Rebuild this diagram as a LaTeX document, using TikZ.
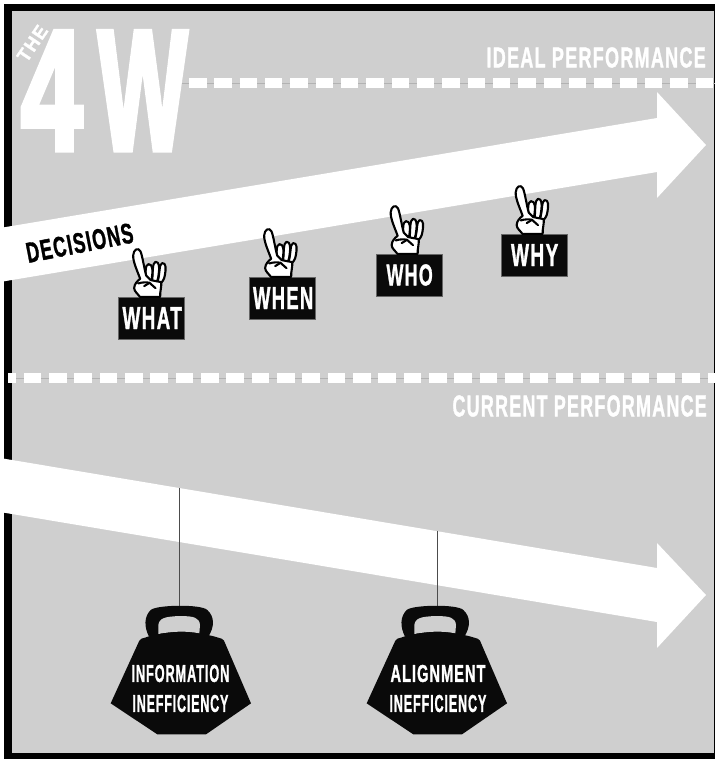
\documentclass[tikz,border=0pt]{standalone}
\usepackage{fontspec}
\setmainfont{Liberation Sans}
\newfontfamily\heavyfont[FakeBold=1.5,LetterSpace=7]{Liberation Sans Bold}
\newfontfamily\hugefont[FakeBold=4]{Liberation Sans Bold}
\definecolor{panel}{HTML}{CFCFCF}
\definecolor{ink}{HTML}{0A0A0A}
\newcommand{\capt}[3]{\resizebox{#1bp}{#2bp}{\heavyfont #3\kern-.07em}}
\newcommand{\hcapt}[3]{\resizebox{#1bp}{#2bp}{\hugefont #3}}
\tikzset{
  bigarrow/.style={fill=white,draw=none},
  dashline/.style={white,line width=10.5bp,dash pattern=on 17.5bp off 7.83bp},
  guide/.style={draw=black!30,line width=.7bp},
  tag/.style={fill=ink,draw=black!60,line width=.4bp,minimum width=66bp,minimum height=42bp,inner sep=0pt,text=white},
  whitetext/.style={text=white,inner sep=0pt},
  weighttext/.style={text=white,inner sep=0pt,align=center,font=\fontsize{10bp}{30bp}\selectfont},
  tether/.style={draw=black!70,line width=.9bp},
  fingerline/.style={fill=white,draw=black,line width=2.1bp,line join=round},
  hand/.pic={
    \begin{scope}[scale=1/3,shift={(-80,-156)}]
      \path[fingerline] (98,112) .. controls (106,85) and (102,58) .. (112,55) .. controls (124,53) and (124,72) .. (120,92) .. controls (118,104) and (112,112) .. (106,118) -- cycle;
      \path[fingerline] (82,112) .. controls (84,85) and (82,54) .. (92,51) .. controls (104,50) and (104,70) .. (102,84) .. controls (100,98) and (100,104) .. (96,112) -- cycle;
      \path[fingerline] (64,112) .. controls (62,85) and (60,60) .. (71,58) .. controls (84,58) and (84,78) .. (82,92) .. controls (81,102) and (80,106) .. (78,112) -- cycle;
      \path[fingerline] (45,156) .. controls (40,148) and (28,140) .. (28,130) .. controls (28,118) and (38,108) .. (46,102) .. controls (38,80) and (24,50) .. (25,32) .. controls (26,14) and (40,6) .. (47,20) .. controls (52,30) and (58,70) .. (64,92) -- (78,106) -- (109,112) .. controls (111,125) and (105,140) .. (106,156) -- cycle;
      \draw[line width=2.1bp,line join=round,line cap=round] (40,116) .. controls (52,112) and (64,112) .. (74,114) -- (92,130);
      \draw[line width=2.1bp,line cap=round] (58,124) -- (74,114);
    \end{scope}
  },
  weight/.pic={
    \begin{scope}[scale=1/3]
      \fill[ink] (147,140) .. controls (132,110) and (132,80) .. (152,60) .. controls (170,44) and (305,42) .. (322,60) .. controls (344,80) and (344,110) .. (325,140) -- cycle;
      \fill[panel] (175,132) -- (175,105) .. controls (178,84) and (195,80) .. (238,78) .. controls (285,78) and (298,84) .. (300,105) -- (298,130) .. controls (260,122) and (215,124) .. (175,132) -- cycle;
      \fill[ink] (118,152) .. controls (122,146) and (125,145) .. (135,143) .. controls (190,122) and (290,122) .. (355,143) .. controls (365,146) and (368,146) .. (372,152) -- (453,340) -- (318,433) -- (172,433) -- (32,340) -- cycle;
    \end{scope}
  }
}
\begin{document}
\begin{tikzpicture}[x=1bp,y=-1bp]
\useasboundingbox (0,0) rectangle (715,759);
\fill[white] (0,0) rectangle (715,759);
\fill[black] (4,4) rectangle (715,759);
\fill[panel] (12,11) rectangle (714,753);
% guides and dashes
\coordinate (topa) at (180,83);
\coordinate (topb) at (715,83);
\coordinate (bota) at (8,378);
\coordinate (botb) at (715,378);
\draw[guide] (topa) -- (topb);
\draw[guide] (bota) -- (botb);
\draw[dashline] (189,83) -- (topb);
\draw[dashline,dash phase=9.5bp] (bota) -- (botb);
% big arrows
\fill[bigarrow] (0,228) -- (657,118) -- (657,92) -- (706,145) -- (657,198) -- (657,172) -- (0,282) -- cycle;
\fill[bigarrow] (0,458) -- (657,568) -- (657,543) -- (706,595) -- (657,648) -- (657,622) -- (0,512) -- cycle;
% title
\node[whitetext,anchor=north west] (fourw) at (21,32) {\hcapt{61}{117}{4}\hspace{16bp}\hcapt{89}{117}{W}};
\node[whitetext,rotate=56] (the) at (32,44) {\capt{38}{13}{THE}};
\node[whitetext] (ideal) at (595.5,57.5) {\capt{218}{20}{IDEAL PERFORMANCE}};
\node[whitetext] (current) at (579,406) {\capt{253}{21}{CURRENT PERFORMANCE}};
\node[inner sep=0pt,rotate=11,text=black] (decisions) at (79,243) {\capt{107}{20}{DECISIONS}};
% tags
\node[tag] (what) at (151.5,318) {\capt{58}{22}{WHAT}};
\node[tag] (when) at (282.5,298) {\capt{59}{22}{WHEN}};
\node[tag] (who) at (409,275) {\capt{45}{21}{WHO}};
\node[tag] (why) at (534,255) {\capt{46}{22}{WHY}};
\pic at (what.north) {hand};
\pic at (when.north) {hand};
\pic at (who.north) {hand};
\pic at (why.north) {hand};
% weights
\coordinate (aa) at (179,488);
\coordinate (ab) at (179,606);
\coordinate (ba) at (437.5,531);
\coordinate (bb) at (437.5,606);
\draw[tether] (aa) -- (ab);
\draw[tether] (ba) -- (bb);
\pic at (100,590) {weight};
\pic at (356,590) {weight};
\node[weighttext] (info) at (180,688.5) {\capt{97}{17}{INFORMATION}\\\capt{95}{17}{INEFFICIENCY}};
\node[weighttext] (align) at (437.5,688.5) {\capt{94}{17}{ALIGNMENT}\\\capt{96}{17}{INEFFICIENCY}};
\end{tikzpicture}
\end{document}
